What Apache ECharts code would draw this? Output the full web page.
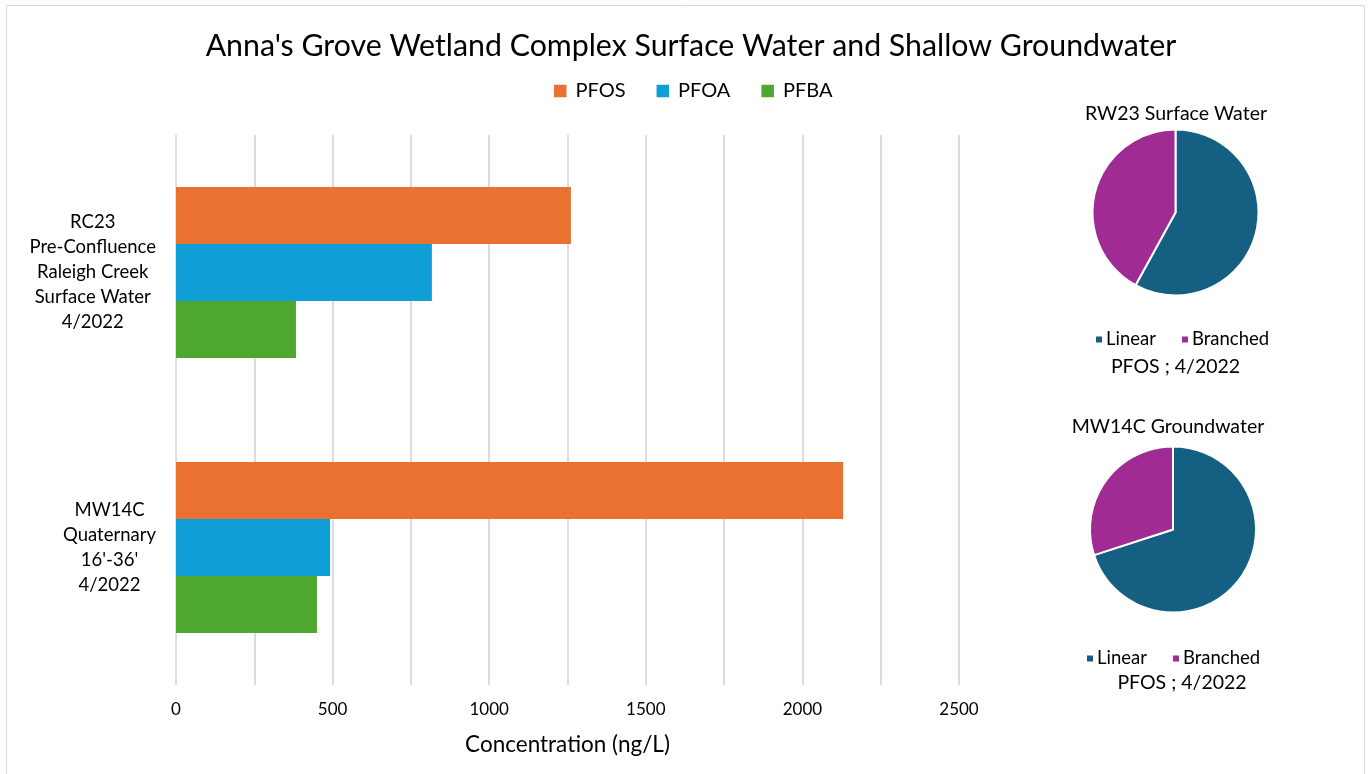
<!DOCTYPE html>
<html>
<head>
<meta charset="utf-8">
<script src="https://cdn.jsdelivr.net/npm/echarts@6/dist/echarts.min.js"></script>
<style>
html,body{margin:0;padding:0;background:#fff;}
#chart{width:1371px;height:774px;}
</style>
</head>
<body>
<div id="chart"></div>
<script>
var categories = [
  ["RC23", "Pre-Confluence", "Raleigh Creek", "Surface Water", "4/2022"],
  ["MW14C", "Quaternary", "16'-36'", "4/2022"]
];
var seriesNames = ["PFOS", "PFOA", "PFBA"];
var pfos = [1261, 2130];
var pfoa = [817, 492];
var pfba = [383, 450];
var pieNames = ["Linear", "Branched"];
var rw23Pie = [58, 42];
var mw14cPie = [70, 30];
var pieTitles = ["RW23 Surface Water", "MW14C Groundwater"];
var pieSubtitle = "PFOS ; 4/2022";
var xTickLabels = [0, 500, 1000, 1500, 2000, 2500];

var FONT = "Lato";
var barColors = ["#E97132", "#0F9ED5", "#4EA72E"];
var pieColors = ["#156082", "#A02B93"];

var yData = categories.map(function(lines){ return lines.join("\n"); });

var barValues = [pfos, pfoa, pfba];
var series = seriesNames.map(function(n, i){
  return {
    name: n, type: "bar",
    data: barValues[i],
    barGap: "0%", barCategoryGap: "37.8%",
    itemStyle: { color: barColors[i] },
    emphasis: { disabled: true }
  };
});

function pieSeries(data, cx, cy){
  return {
    type: "pie",
    center: [cx, cy],
    radius: 83,
    startAngle: 90,
    clockwise: true,
    label: { show: false },
    labelLine: { show: false },
    emphasis: { disabled: true },
    itemStyle: { borderColor: "#fff", borderWidth: 2 },
    data: data.map(function(v, i){
      return { name: pieNames[i], value: v, itemStyle: { color: pieColors[i] } };
    })
  };
}
series.push(pieSeries(rw23Pie, 1175.5, 212.5));
series.push(pieSeries(mw14cPie, 1173, 529.5));

function ttl(text, x, y, size){
  return { text: text, left: x, top: y, textAlign: "center", textVerticalAlign: "middle",
    textStyle: { fontFamily: FONT, fontSize: size, fontWeight: "normal", color: "#000" } };
}

var chart = echarts.init(document.getElementById("chart"), null, { renderer: "canvas" });
chart.setOption({
  animation: false,
  backgroundColor: "#fff",
  textStyle: { fontFamily: FONT },
  graphic: [{
    type: "rect", shape: { x: 6.5, y: 5.5, width: 1358, height: 800 },
    style: { fill: "none", stroke: "#d9d9d9", lineWidth: 1 }, silent: true
  }],
  title: [
    ttl("Anna's Grove Wetland Complex Surface Water and Shallow Groundwater", 686, 41, 30.3),
    ttl(pieTitles[0], 1171, 109, 19.5),
    ttl(pieSubtitle, 1170.5, 362, 19.5),
    ttl(pieTitles[1], 1163, 422, 19.5),
    ttl(pieSubtitle, 1177, 678, 19.5)
  ],
  legend: [
    { data: seriesNames, left: 549, top: 76, itemWidth: 12.5, itemHeight: 12.5, itemGap: 31,
      icon: "rect", selectedMode: false,
      textStyle: { fontFamily: FONT, fontSize: 20, color: "#000", padding: [0,0,0,4] } },
    { data: pieNames, left: 1089, top: 325, itemWidth: 8, itemHeight: 8, itemGap: 24,
      icon: "rect", selectedMode: false,
      textStyle: { fontFamily: FONT, fontSize: 18.5, color: "#000", padding: [0,0,0,-2] } },
    { data: pieNames, left: 1080, top: 644, itemWidth: 8, itemHeight: 8, itemGap: 24,
      icon: "rect", selectedMode: false,
      textStyle: { fontFamily: FONT, fontSize: 18.5, color: "#000", padding: [0,0,0,-2] } }
  ],
  grid: { left: 176, right: 412, top: 135, bottom: 89, containLabel: false },
  xAxis: {
    type: "value", min: 0, max: 2500, interval: 250,
    name: "Concentration (ng/L)", nameLocation: "middle", nameGap: 48,
    nameTextStyle: { fontFamily: FONT, fontSize: 22.5, color: "#000" },
    axisLine: { show: false }, axisTick: { show: false },
    axisLabel: {
      margin: 16.5, fontFamily: FONT, fontSize: 17, color: "#000",
      formatter: function(v){ return xTickLabels.indexOf(v) >= 0 ? String(v) : ""; }
    },
    splitLine: { show: true, lineStyle: { color: "#d0d0d0", width: 1.5 } }
  },
  yAxis: {
    type: "category", inverse: true, data: yData,
    axisLine: { show: false }, axisTick: { show: false },
    axisLabel: {
      margin: 20, fontFamily: FONT, fontSize: 18.5, lineHeight: 25, color: "#000",
      formatter: function(v){
        return v.split("\n").map(function(s){ return "{c|" + s + "}"; }).join("\n");
      },
      rich: { c: { align: "center", fontFamily: FONT, fontSize: 18.5, lineHeight: 25, color: "#000" } }
    },
    splitLine: { show: false }
  },
  series: series
});
</script>
</body>
</html>
